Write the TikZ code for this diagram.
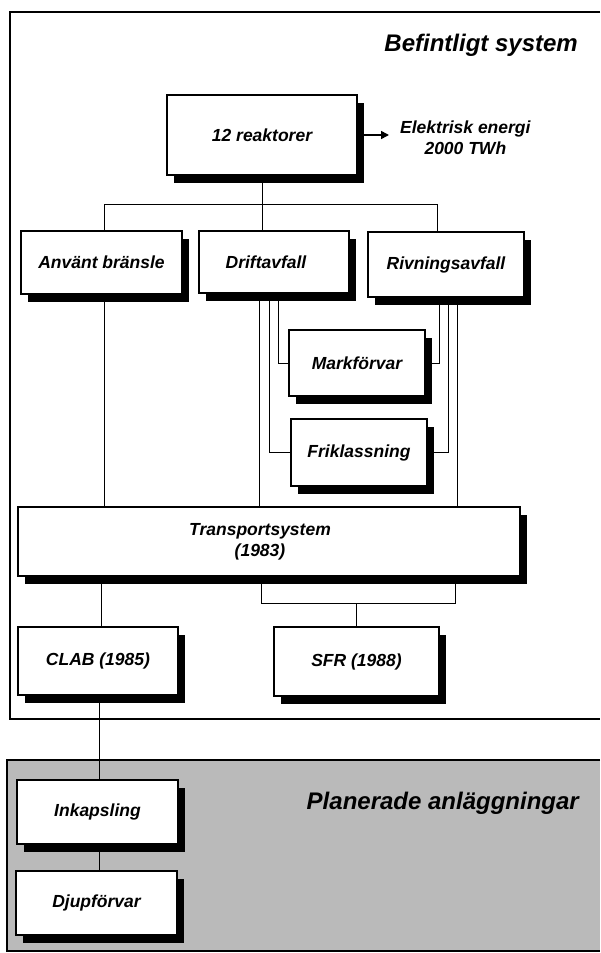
\documentclass[tikz,border=0pt]{standalone}
\usepackage{fontspec}
\setmainfont{Liberation Sans}
\usetikzlibrary{shadows,arrows.meta,calc}
\pgfdeclarelayer{bg}
\pgfdeclarelayer{lines}
\pgfsetlayers{bg,lines,main}
\begin{document}
\begin{tikzpicture}[x=1pt,y=-1pt,
  boxfont/.style={font=\bfseries\itshape\fontsize{17.5}{21}\selectfont},
  box/.style={boxfont, draw, line width=1.1pt, fill=white, inner sep=0pt, align=center,
    drop shadow={shadow xshift=7pt, shadow yshift=-8pt, opacity=1, fill=black}},
  link/.style={line width=0.9pt},
  frameline/.style={line width=2.2pt},
  heading/.style={font=\bfseries\itshape\fontsize{24}{28}\selectfont, inner sep=0pt}]
\useasboundingbox (0,0) rectangle (600,953);

% existing facilities
\node[box, minimum width=190pt, minimum height=80pt] (r) at (262,135) {12 reaktorer};
\node[boxfont, align=center, inner sep=0pt, anchor=west] (el) at (400,138)
  {\fontsize{17.5}{18}\selectfont Elektrisk energi\\2000 TWh};
\node[box, minimum width=161pt, minimum height=63pt] (a) at (101.5,262.5) {Använt bränsle};
\node[box, minimum width=150pt, minimum height=62pt] (d) at (274,262) {\hspace*{-16pt}Driftavfall};
\node[box, minimum width=156pt, minimum height=65pt] (v) at (446,264.5) {Rivningsavfall};
\node[box, minimum width=136pt, minimum height=66pt] (m) at (357,363) {Markförvar};
\node[box, minimum width=136pt, minimum height=67pt] (f) at (359,452.5) {Friklassning};
\node[box, minimum width=502pt, minimum height=69pt] (t) at (269,541.5)
  {\hspace*{-18pt}Transportsystem\\\hspace*{-18pt}(1983)};
\node[box, minimum width=160pt, minimum height=68pt] (c) at (98,661) {CLAB (1985)};
\node[box, minimum width=165pt, minimum height=69pt] (s) at (356.5,661.5) {SFR (1988)};

% planned facilities
\node[box, minimum width=161pt, minimum height=64pt] (i) at (97.5,812) {Inkapsling};
\node[box, minimum width=161pt, minimum height=64pt] (j) at (96.5,903) {Djupförvar};

% section headings
\node[heading, anchor=east] (h1) at (578,45) {Befintligt system};
\node[heading, anchor=east] (h2) at (579,803) {Planerade anläggningar};

% section frames
\begin{pgfonlayer}{bg}
  \draw[frameline] (600,12) -- (10,12) -- (10,719) -- (600,719);
  \fill[black!27] (7,760) rectangle (600,951);
  \draw[line width=1.5pt] (600,760) -- (7,760) -- (7,951) -- (600,951);
\end{pgfonlayer}

% guide positions for the connectors
\coordinate (ybus) at (0,204);
\coordinate (ysfr) at (0,603);
\coordinate (xa) at (104,0);
\coordinate (xv) at (437,0);
\coordinate (xd1) at (259,0);
\coordinate (xd2) at (269,0);
\coordinate (xd3) at (278,0);
\coordinate (xv1) at (439,0);
\coordinate (xv2) at (448,0);
\coordinate (xv3) at (457,0);
\coordinate (xt1) at (101,0);
\coordinate (xt2) at (261,0);
\coordinate (xt3) at (455,0);
\coordinate (xc) at (99,0);
\coordinate (xel) at (389,0);

\begin{pgfonlayer}{lines}
  % reactors to the waste streams
  \draw[link] (r.south) -- (r.south |- d.north);
  \draw[link] (a.north -| xa) -- (xa |- ybus) -- (xv |- ybus) -- (v.north -| xv);
  \draw[line width=1.6pt, -{Triangle[length=8pt,width=8pt]}] (r.east) -- (r.east -| xel);
  % spent fuel
  \draw[link] (a.south -| xa) -- (t.north -| xa);
  % operational waste
  \draw[link] (d.south -| xd1) -- (t.north -| xd1);
  \draw[link] (d.south -| xd2) |- (f.west);
  \draw[link] (d.south -| xd3) |- (m.west);
  % decommissioning waste
  \draw[link] (v.south -| xv1) |- (m.east);
  \draw[link] (v.south -| xv2) |- (f.east);
  \draw[link] (v.south -| xv3) -- (t.north -| xv3);
  % transport to storage
  \draw[link] (t.south -| xt1) -- (c.north -| xt1);
  \draw[link] (t.south -| xt2) -- (xt2 |- ysfr) -- (xt3 |- ysfr) -- (t.south -| xt3);
  \draw[link] (s.north) -- (s.north |- ysfr);
  % interim storage to encapsulation and deep repository
  \draw[link] (c.south -| xc) -- (i.north -| xc);
  \draw[link] (i.south -| xc) -- (j.north -| xc);
\end{pgfonlayer}
\end{tikzpicture}
\end{document}
